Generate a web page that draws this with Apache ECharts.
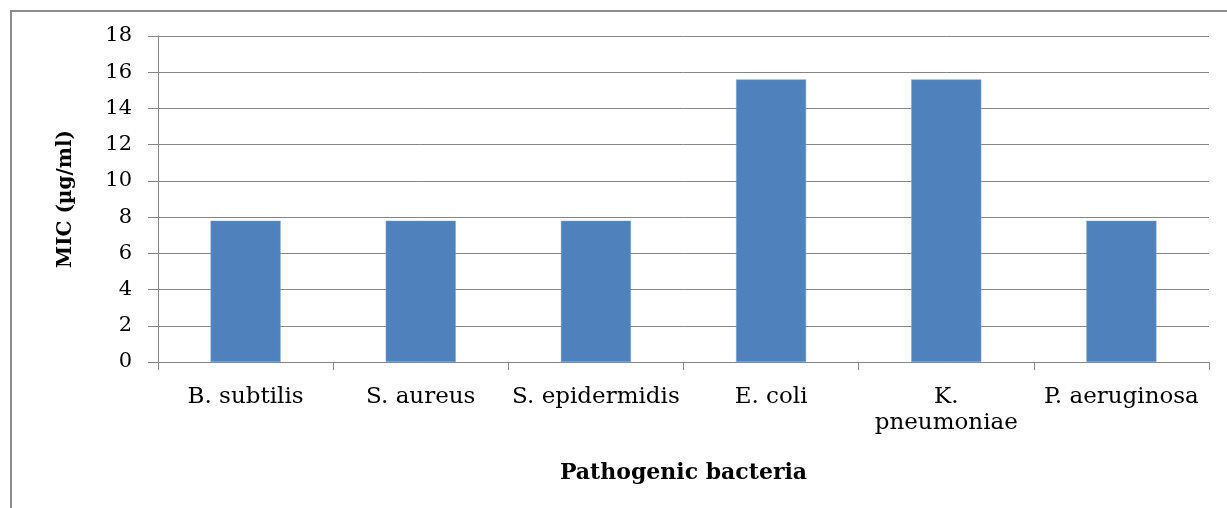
<!DOCTYPE html>
<html>
<head>
<meta charset="utf-8">
<script src="https://cdn.jsdelivr.net/npm/echarts@6/dist/echarts.min.js"></script>
<style>html,body{margin:0;padding:0;background:#fff;}#c{width:1227px;height:508px;}</style>
</head>
<body>
<div id="c"></div>
<script>
const categories = ['B. subtilis', 'S. aureus', 'S. epidermidis', 'E. coli', 'K.\npneumoniae', 'P. aeruginosa'];
const micValues = [7.8, 7.8, 7.8, 15.6, 15.6, 7.8];
const yTicks = { min: 0, max: 18, interval: 2 };
const xTitle = 'Pathogenic bacteria';
const yTitle = 'MIC (µg/ml)';

const font = 'DejaVu Serif';
const chart = echarts.init(document.getElementById('c'), null, { renderer: 'canvas' });
chart.setOption({
  backgroundColor: '#ffffff',
  animation: false,
  graphic: [{
    type: 'polyline',
    shape: { points: [[11, 508], [11, 11], [1227, 11]] },
    style: { stroke: '#8c8c8c', lineWidth: 2, fill: null },
    silent: true
  }],
  grid: { left: 158, right: 18, top: 36, bottom: 146, containLabel: false },
  xAxis: {
    type: 'category',
    data: categories,
    name: xTitle,
    nameLocation: 'middle',
    nameGap: 100,
    nameTextStyle: { fontFamily: font, fontWeight: 'bold', fontSize: 22, color: '#000' },
    axisLine: { lineStyle: { color: '#868686', width: 1 } },
    axisTick: { show: true, length: 8, lineStyle: { color: '#868686' } },
    axisLabel: { fontFamily: font, fontSize: 23, color: '#000', margin: 22, lineHeight: 26, interval: 0 },
    splitLine: { show: false }
  },
  yAxis: {
    type: 'value',
    min: yTicks.min,
    max: yTicks.max,
    interval: yTicks.interval,
    name: yTitle,
    nameLocation: 'middle',
    nameGap: 82,
    nameRotate: 90,
    nameTextStyle: { fontFamily: font, fontWeight: 'bold', fontSize: 20, color: '#000' },
    axisLine: { show: true, lineStyle: { color: '#868686', width: 1 } },
    axisTick: { show: true, inside: false, length: 10, lineStyle: { color: '#868686' } },
    axisLabel: { fontFamily: font, fontSize: 21, color: '#000', margin: 26 },
    splitLine: { show: true, lineStyle: { color: '#868686', width: 1 } }
  },
  series: [{
    type: 'bar',
    data: micValues,
    barWidth: '40%',
    itemStyle: { color: '#4F81BD', borderColor: '#7FA3D0', borderWidth: 0.5 }
  }]
});
</script>
</body>
</html>
